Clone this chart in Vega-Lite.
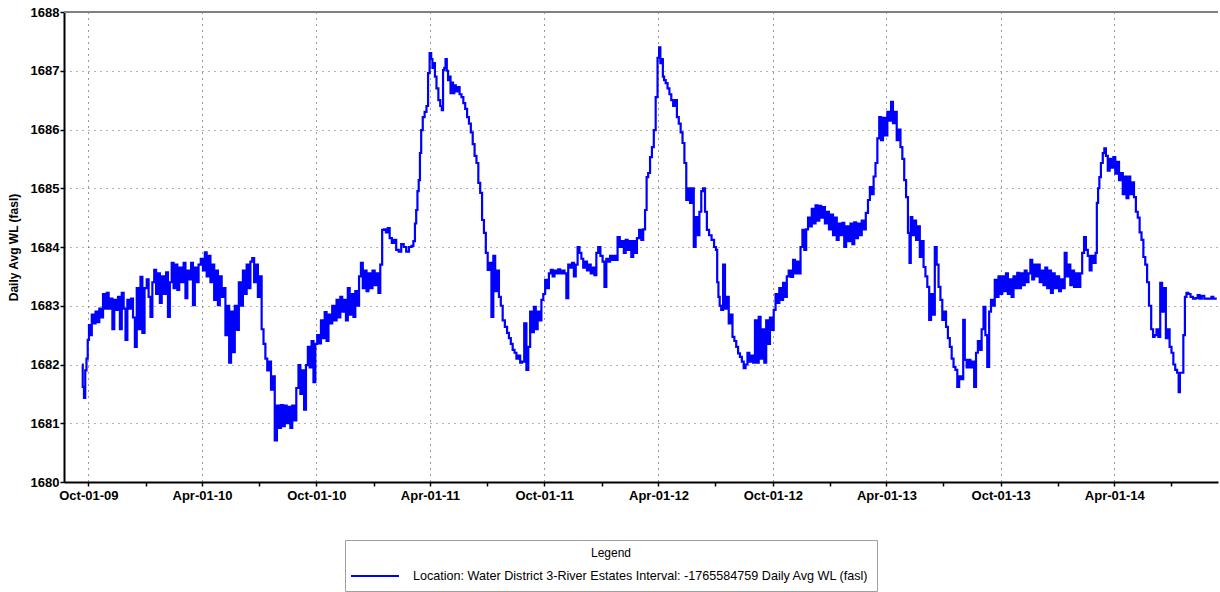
{"$schema":"https://vega.github.io/schema/vega-lite/v6.json","width":1154,"height":470,"autosize":"none","padding":{"left":64,"top":12,"right":2,"bottom":110},"background":"white","config":{"view":{"stroke":null}},
"layer":[
{"data":{"values":[
{"d":"2009-09-21","v":1682.0},{"d":"2009-09-23","v":1681.62},{"d":"2009-09-25","v":1681.43},{"d":"2009-09-27","v":1681.9},{"d":"2009-09-29","v":1682.1},
{"d":"2009-10-01","v":1682.42},{"d":"2009-10-03","v":1682.67},{"d":"2009-10-05","v":1682.5},{"d":"2009-10-08","v":1682.85},{"d":"2009-10-11","v":1682.7},{"d":"2009-10-14","v":1682.9},{"d":"2009-10-17","v":1682.72},{"d":"2009-10-20","v":1682.95},{"d":"2009-10-23","v":1682.8},{"d":"2009-10-26","v":1683.2},{"d":"2009-10-29","v":1682.95},
{"d":"2009-11-01","v":1683.22},{"d":"2009-11-04","v":1682.95},{"d":"2009-11-07","v":1683.12},{"d":"2009-11-10","v":1682.6},{"d":"2009-11-13","v":1683.1},{"d":"2009-11-16","v":1682.93},{"d":"2009-11-19","v":1683.15},{"d":"2009-11-22","v":1682.6},{"d":"2009-11-25","v":1683.22},{"d":"2009-11-28","v":1682.95},
{"d":"2009-12-01","v":1682.42},{"d":"2009-12-04","v":1683.1},{"d":"2009-12-07","v":1682.95},{"d":"2009-12-10","v":1683.12},{"d":"2009-12-13","v":1682.8},{"d":"2009-12-16","v":1682.3},{"d":"2009-12-19","v":1683.3},{"d":"2009-12-22","v":1682.6},{"d":"2009-12-25","v":1683.49},{"d":"2009-12-28","v":1682.54},
{"d":"2010-01-01","v":1683.3},{"d":"2010-01-04","v":1683.45},{"d":"2010-01-07","v":1683.15},{"d":"2010-01-10","v":1682.81},{"d":"2010-01-13","v":1683.4},{"d":"2010-01-16","v":1683.61},{"d":"2010-01-19","v":1683.2},{"d":"2010-01-22","v":1683.55},{"d":"2010-01-25","v":1683.05},{"d":"2010-01-28","v":1683.5},
{"d":"2010-02-01","v":1683.2},{"d":"2010-02-04","v":1683.57},{"d":"2010-02-07","v":1682.81},{"d":"2010-02-10","v":1683.4},{"d":"2010-02-13","v":1683.73},{"d":"2010-02-16","v":1683.3},{"d":"2010-02-19","v":1683.7},{"d":"2010-02-22","v":1683.27},{"d":"2010-02-25","v":1683.65},
{"d":"2010-03-01","v":1683.4},{"d":"2010-03-04","v":1683.73},{"d":"2010-03-07","v":1683.13},{"d":"2010-03-10","v":1683.6},{"d":"2010-03-13","v":1683.45},{"d":"2010-03-16","v":1683.73},{"d":"2010-03-19","v":1683.01},{"d":"2010-03-22","v":1683.65},{"d":"2010-03-25","v":1683.4},{"d":"2010-03-28","v":1683.7},
{"d":"2010-04-01","v":1683.8},{"d":"2010-04-04","v":1683.6},{"d":"2010-04-07","v":1683.91},{"d":"2010-04-10","v":1683.5},{"d":"2010-04-13","v":1683.85},{"d":"2010-04-16","v":1683.4},{"d":"2010-04-19","v":1683.7},{"d":"2010-04-22","v":1683.1},{"d":"2010-04-25","v":1683.6},{"d":"2010-04-28","v":1683.01},
{"d":"2010-05-01","v":1683.5},{"d":"2010-05-04","v":1683.15},{"d":"2010-05-07","v":1683.3},{"d":"2010-05-10","v":1682.5},{"d":"2010-05-13","v":1683.0},{"d":"2010-05-16","v":1682.03},{"d":"2010-05-19","v":1682.9},{"d":"2010-05-22","v":1682.21},{"d":"2010-05-25","v":1683.0},{"d":"2010-05-28","v":1682.59},
{"d":"2010-06-01","v":1683.4},{"d":"2010-06-04","v":1683.0},{"d":"2010-06-07","v":1683.6},{"d":"2010-06-10","v":1683.2},{"d":"2010-06-13","v":1683.7},{"d":"2010-06-16","v":1683.3},{"d":"2010-06-19","v":1683.75},{"d":"2010-06-22","v":1683.81},{"d":"2010-06-25","v":1683.4},{"d":"2010-06-28","v":1683.7},
{"d":"2010-07-01","v":1683.15},{"d":"2010-07-04","v":1683.5},{"d":"2010-07-07","v":1682.6},{"d":"2010-07-10","v":1682.35},{"d":"2010-07-13","v":1682.1},{"d":"2010-07-16","v":1681.9},{"d":"2010-07-19","v":1682.05},{"d":"2010-07-22","v":1681.57},{"d":"2010-07-25","v":1681.8},{"d":"2010-07-28","v":1680.71},
{"d":"2010-08-01","v":1681.3},{"d":"2010-08-04","v":1680.92},{"d":"2010-08-07","v":1681.31},{"d":"2010-08-10","v":1680.95},{"d":"2010-08-13","v":1681.3},{"d":"2010-08-16","v":1681.0},{"d":"2010-08-19","v":1681.28},{"d":"2010-08-22","v":1680.92},{"d":"2010-08-25","v":1681.3},{"d":"2010-08-28","v":1681.05},
{"d":"2010-09-01","v":1681.6},{"d":"2010-09-04","v":1681.99},{"d":"2010-09-07","v":1681.5},{"d":"2010-09-10","v":1681.9},{"d":"2010-09-13","v":1681.23},{"d":"2010-09-16","v":1681.99},{"d":"2010-09-19","v":1682.3},{"d":"2010-09-22","v":1681.95},{"d":"2010-09-25","v":1682.4},{"d":"2010-09-28","v":1681.7},
{"d":"2010-10-01","v":1682.35},{"d":"2010-10-04","v":1682.5},{"d":"2010-10-07","v":1682.36},{"d":"2010-10-10","v":1682.75},{"d":"2010-10-13","v":1682.45},{"d":"2010-10-16","v":1682.89},{"d":"2010-10-19","v":1682.4},{"d":"2010-10-22","v":1682.85},{"d":"2010-10-25","v":1682.7},{"d":"2010-10-28","v":1683.0},
{"d":"2010-11-01","v":1682.75},{"d":"2010-11-04","v":1683.1},{"d":"2010-11-07","v":1682.8},{"d":"2010-11-10","v":1683.15},{"d":"2010-11-13","v":1682.9},{"d":"2010-11-16","v":1683.1},{"d":"2010-11-19","v":1682.75},{"d":"2010-11-22","v":1683.3},{"d":"2010-11-25","v":1682.85},{"d":"2010-11-28","v":1683.2},
{"d":"2010-12-01","v":1682.81},{"d":"2010-12-04","v":1683.25},{"d":"2010-12-07","v":1683.0},{"d":"2010-12-10","v":1683.5},{"d":"2010-12-13","v":1683.73},{"d":"2010-12-16","v":1683.3},{"d":"2010-12-19","v":1683.6},{"d":"2010-12-22","v":1683.25},{"d":"2010-12-25","v":1683.55},{"d":"2010-12-28","v":1683.3},
{"d":"2011-01-01","v":1683.6},{"d":"2011-01-04","v":1683.35},{"d":"2011-01-07","v":1683.55},{"d":"2011-01-10","v":1683.22},{"d":"2011-01-13","v":1683.7},{"d":"2011-01-16","v":1684.29},{"d":"2011-01-19","v":1684.3},{"d":"2011-01-22","v":1684.25},{"d":"2011-01-25","v":1684.32},{"d":"2011-01-28","v":1684.15},
{"d":"2011-02-01","v":1684.07},{"d":"2011-02-04","v":1684.12},{"d":"2011-02-08","v":1683.95},{"d":"2011-02-12","v":1683.92},{"d":"2011-02-16","v":1684.05},{"d":"2011-02-20","v":1684.0},{"d":"2011-02-24","v":1683.92},
{"d":"2011-03-01","v":1684.0},{"d":"2011-03-04","v":1684.02},{"d":"2011-03-07","v":1684.1},{"d":"2011-03-09","v":1684.4},{"d":"2011-03-11","v":1684.63},{"d":"2011-03-13","v":1684.95},{"d":"2011-03-15","v":1685.14},{"d":"2011-03-17","v":1685.6},{"d":"2011-03-19","v":1685.99},{"d":"2011-03-22","v":1686.21},{"d":"2011-03-25","v":1686.3},{"d":"2011-03-28","v":1686.4},{"d":"2011-03-30","v":1686.96},
{"d":"2011-04-02","v":1687.3},{"d":"2011-04-04","v":1687.2},{"d":"2011-04-06","v":1687.05},{"d":"2011-04-08","v":1687.13},{"d":"2011-04-10","v":1686.9},{"d":"2011-04-13","v":1686.7},{"d":"2011-04-16","v":1686.5},{"d":"2011-04-19","v":1686.4},{"d":"2011-04-21","v":1686.33},{"d":"2011-04-23","v":1687.01},{"d":"2011-04-25","v":1687.05},{"d":"2011-04-27","v":1687.2},{"d":"2011-04-29","v":1687.0},
{"d":"2011-05-01","v":1686.84},{"d":"2011-05-03","v":1686.9},{"d":"2011-05-05","v":1686.62},{"d":"2011-05-07","v":1686.8},{"d":"2011-05-09","v":1686.62},{"d":"2011-05-11","v":1686.75},{"d":"2011-05-14","v":1686.65},{"d":"2011-05-17","v":1686.72},{"d":"2011-05-20","v":1686.6},{"d":"2011-05-23","v":1686.55},{"d":"2011-05-26","v":1686.45},{"d":"2011-05-29","v":1686.35},
{"d":"2011-06-01","v":1686.21},{"d":"2011-06-04","v":1686.1},{"d":"2011-06-07","v":1685.95},{"d":"2011-06-10","v":1685.75},{"d":"2011-06-13","v":1685.55},{"d":"2011-06-16","v":1685.43},{"d":"2011-06-19","v":1685.09},{"d":"2011-06-22","v":1684.92},{"d":"2011-06-25","v":1684.46},{"d":"2011-06-28","v":1684.24},
{"d":"2011-07-01","v":1683.9},{"d":"2011-07-04","v":1683.61},{"d":"2011-07-07","v":1683.73},{"d":"2011-07-10","v":1682.81},{"d":"2011-07-13","v":1683.85},{"d":"2011-07-16","v":1683.25},{"d":"2011-07-19","v":1683.6},{"d":"2011-07-22","v":1683.15},{"d":"2011-07-25","v":1683.0},{"d":"2011-07-28","v":1682.75},
{"d":"2011-08-01","v":1682.64},{"d":"2011-08-04","v":1682.54},{"d":"2011-08-07","v":1682.45},{"d":"2011-08-10","v":1682.35},{"d":"2011-08-13","v":1682.25},{"d":"2011-08-16","v":1682.2},{"d":"2011-08-19","v":1682.1},{"d":"2011-08-22","v":1682.15},{"d":"2011-08-25","v":1682.03},{"d":"2011-08-28","v":1682.05},
{"d":"2011-09-01","v":1682.7},{"d":"2011-09-04","v":1681.91},{"d":"2011-09-07","v":1682.3},{"d":"2011-09-10","v":1682.9},{"d":"2011-09-13","v":1682.55},{"d":"2011-09-16","v":1682.98},{"d":"2011-09-19","v":1682.6},{"d":"2011-09-22","v":1682.9},{"d":"2011-09-25","v":1682.75},{"d":"2011-09-28","v":1683.1},
{"d":"2011-10-01","v":1683.2},{"d":"2011-10-04","v":1683.44},{"d":"2011-10-07","v":1683.3},{"d":"2011-10-10","v":1683.55},{"d":"2011-10-13","v":1683.61},{"d":"2011-10-16","v":1683.5},{"d":"2011-10-19","v":1683.6},{"d":"2011-10-22","v":1683.55},{"d":"2011-10-25","v":1683.62},{"d":"2011-10-28","v":1683.55},
{"d":"2011-11-01","v":1683.6},{"d":"2011-11-04","v":1683.55},{"d":"2011-11-07","v":1683.13},{"d":"2011-11-10","v":1683.7},{"d":"2011-11-13","v":1683.65},{"d":"2011-11-16","v":1683.73},{"d":"2011-11-19","v":1683.5},{"d":"2011-11-22","v":1683.7},{"d":"2011-11-25","v":1684.0},{"d":"2011-11-28","v":1683.9},
{"d":"2011-12-01","v":1683.8},{"d":"2011-12-04","v":1683.65},{"d":"2011-12-07","v":1683.75},{"d":"2011-12-10","v":1683.6},{"d":"2011-12-13","v":1683.7},{"d":"2011-12-16","v":1683.55},{"d":"2011-12-19","v":1683.65},{"d":"2011-12-22","v":1683.52},{"d":"2011-12-25","v":1683.9},{"d":"2011-12-28","v":1684.0},
{"d":"2012-01-01","v":1683.85},{"d":"2012-01-04","v":1683.75},{"d":"2012-01-07","v":1683.32},{"d":"2012-01-10","v":1683.8},{"d":"2012-01-13","v":1683.75},{"d":"2012-01-16","v":1683.85},{"d":"2012-01-19","v":1683.78},{"d":"2012-01-22","v":1683.85},{"d":"2012-01-25","v":1683.78},{"d":"2012-01-28","v":1684.17},
{"d":"2012-02-01","v":1684.0},{"d":"2012-02-04","v":1684.1},{"d":"2012-02-07","v":1683.9},{"d":"2012-02-10","v":1684.12},{"d":"2012-02-13","v":1683.95},{"d":"2012-02-16","v":1684.1},{"d":"2012-02-19","v":1683.83},{"d":"2012-02-22","v":1684.1},{"d":"2012-02-25","v":1683.9},{"d":"2012-02-28","v":1684.15},
{"d":"2012-03-03","v":1684.29},{"d":"2012-03-06","v":1684.12},{"d":"2012-03-09","v":1684.3},{"d":"2012-03-12","v":1684.63},{"d":"2012-03-14","v":1685.19},{"d":"2012-03-17","v":1685.26},{"d":"2012-03-20","v":1685.53},{"d":"2012-03-23","v":1685.7},{"d":"2012-03-26","v":1685.99},{"d":"2012-03-29","v":1686.55},
{"d":"2012-04-01","v":1687.22},{"d":"2012-04-03","v":1687.4},{"d":"2012-04-05","v":1687.13},{"d":"2012-04-07","v":1687.2},{"d":"2012-04-09","v":1686.9},{"d":"2012-04-11","v":1686.84},{"d":"2012-04-14","v":1686.79},{"d":"2012-04-17","v":1686.7},{"d":"2012-04-20","v":1686.6},{"d":"2012-04-23","v":1686.5},{"d":"2012-04-26","v":1686.4},{"d":"2012-04-29","v":1686.5},
{"d":"2012-05-02","v":1686.21},{"d":"2012-05-05","v":1686.1},{"d":"2012-05-08","v":1685.95},{"d":"2012-05-11","v":1685.77},{"d":"2012-05-14","v":1685.43},{"d":"2012-05-17","v":1684.8},{"d":"2012-05-20","v":1685.0},{"d":"2012-05-23","v":1684.75},{"d":"2012-05-26","v":1685.0},{"d":"2012-05-29","v":1684.0},
{"d":"2012-06-01","v":1684.51},{"d":"2012-06-04","v":1684.2},{"d":"2012-06-07","v":1684.6},{"d":"2012-06-10","v":1684.95},{"d":"2012-06-13","v":1685.0},{"d":"2012-06-16","v":1684.6},{"d":"2012-06-19","v":1684.29},{"d":"2012-06-23","v":1684.2},{"d":"2012-06-27","v":1684.12},
{"d":"2012-07-01","v":1684.0},{"d":"2012-07-03","v":1683.95},{"d":"2012-07-05","v":1683.4},{"d":"2012-07-07","v":1683.15},{"d":"2012-07-09","v":1683.0},{"d":"2012-07-12","v":1682.93},{"d":"2012-07-15","v":1683.7},{"d":"2012-07-18","v":1682.95},{"d":"2012-07-21","v":1683.15},{"d":"2012-07-24","v":1682.7},{"d":"2012-07-27","v":1682.85},{"d":"2012-07-30","v":1682.47},
{"d":"2012-08-02","v":1682.4},{"d":"2012-08-05","v":1682.3},{"d":"2012-08-08","v":1682.19},{"d":"2012-08-11","v":1682.13},{"d":"2012-08-14","v":1682.05},{"d":"2012-08-17","v":1681.94},{"d":"2012-08-20","v":1682.0},{"d":"2012-08-23","v":1682.2},{"d":"2012-08-26","v":1682.05},{"d":"2012-08-29","v":1682.15},
{"d":"2012-09-01","v":1682.03},{"d":"2012-09-04","v":1682.75},{"d":"2012-09-07","v":1682.03},{"d":"2012-09-10","v":1682.81},{"d":"2012-09-13","v":1682.1},{"d":"2012-09-16","v":1682.6},{"d":"2012-09-19","v":1682.03},{"d":"2012-09-22","v":1682.75},{"d":"2012-09-25","v":1682.35},{"d":"2012-09-28","v":1682.8},
{"d":"2012-10-01","v":1682.59},{"d":"2012-10-04","v":1682.93},{"d":"2012-10-07","v":1683.2},{"d":"2012-10-10","v":1683.05},{"d":"2012-10-13","v":1683.3},{"d":"2012-10-16","v":1683.1},{"d":"2012-10-19","v":1683.39},{"d":"2012-10-22","v":1683.15},{"d":"2012-10-25","v":1683.5},{"d":"2012-10-28","v":1683.6},
{"d":"2012-11-01","v":1683.49},{"d":"2012-11-04","v":1683.78},{"d":"2012-11-07","v":1683.55},{"d":"2012-11-10","v":1683.75},{"d":"2012-11-13","v":1683.55},{"d":"2012-11-16","v":1684.0},{"d":"2012-11-19","v":1684.29},{"d":"2012-11-22","v":1683.95},{"d":"2012-11-25","v":1684.3},{"d":"2012-11-28","v":1684.5},
{"d":"2012-12-01","v":1684.35},{"d":"2012-12-04","v":1684.65},{"d":"2012-12-07","v":1684.4},{"d":"2012-12-10","v":1684.71},{"d":"2012-12-13","v":1684.45},{"d":"2012-12-16","v":1684.7},{"d":"2012-12-19","v":1684.5},{"d":"2012-12-22","v":1684.68},{"d":"2012-12-25","v":1684.4},{"d":"2012-12-28","v":1684.6},
{"d":"2013-01-01","v":1684.3},{"d":"2013-01-04","v":1684.55},{"d":"2013-01-07","v":1684.2},{"d":"2013-01-10","v":1684.5},{"d":"2013-01-13","v":1684.12},{"d":"2013-01-16","v":1684.4},{"d":"2013-01-19","v":1684.2},{"d":"2013-01-22","v":1684.41},{"d":"2013-01-25","v":1684.0},{"d":"2013-01-28","v":1684.35},
{"d":"2013-02-01","v":1684.1},{"d":"2013-02-04","v":1684.4},{"d":"2013-02-07","v":1684.05},{"d":"2013-02-10","v":1684.42},{"d":"2013-02-13","v":1684.15},{"d":"2013-02-16","v":1684.4},{"d":"2013-02-19","v":1684.2},{"d":"2013-02-22","v":1684.45},{"d":"2013-02-25","v":1684.3},
{"d":"2013-03-01","v":1684.58},{"d":"2013-03-04","v":1684.8},{"d":"2013-03-07","v":1685.02},{"d":"2013-03-10","v":1684.9},{"d":"2013-03-13","v":1685.2},{"d":"2013-03-16","v":1685.43},{"d":"2013-03-19","v":1685.85},{"d":"2013-03-22","v":1686.21},{"d":"2013-03-25","v":1685.82},{"d":"2013-03-28","v":1686.2},
{"d":"2013-04-01","v":1685.9},{"d":"2013-04-04","v":1686.3},{"d":"2013-04-07","v":1686.15},{"d":"2013-04-10","v":1686.47},{"d":"2013-04-13","v":1686.11},{"d":"2013-04-16","v":1686.3},{"d":"2013-04-19","v":1685.82},{"d":"2013-04-22","v":1686.0},{"d":"2013-04-25","v":1685.7},{"d":"2013-04-28","v":1685.5},
{"d":"2013-05-01","v":1685.14},{"d":"2013-05-04","v":1684.85},{"d":"2013-05-07","v":1684.24},{"d":"2013-05-09","v":1683.73},{"d":"2013-05-11","v":1684.51},{"d":"2013-05-14","v":1684.2},{"d":"2013-05-17","v":1684.45},{"d":"2013-05-20","v":1684.12},{"d":"2013-05-23","v":1684.35},{"d":"2013-05-26","v":1683.83},{"d":"2013-05-29","v":1684.1},
{"d":"2013-06-01","v":1683.66},{"d":"2013-06-04","v":1683.5},{"d":"2013-06-07","v":1683.32},{"d":"2013-06-10","v":1682.76},{"d":"2013-06-13","v":1683.2},{"d":"2013-06-16","v":1682.85},{"d":"2013-06-19","v":1684.0},{"d":"2013-06-22","v":1683.7},{"d":"2013-06-25","v":1683.32},{"d":"2013-06-28","v":1683.1},
{"d":"2013-07-01","v":1682.76},{"d":"2013-07-04","v":1682.9},{"d":"2013-07-07","v":1682.64},{"d":"2013-07-10","v":1682.45},{"d":"2013-07-13","v":1682.3},{"d":"2013-07-16","v":1682.1},{"d":"2013-07-19","v":1681.96},{"d":"2013-07-22","v":1681.91},{"d":"2013-07-25","v":1681.62},{"d":"2013-07-28","v":1681.8},
{"d":"2013-08-01","v":1681.75},{"d":"2013-08-03","v":1682.76},{"d":"2013-08-06","v":1682.08},{"d":"2013-08-09","v":1681.95},{"d":"2013-08-12","v":1682.08},{"d":"2013-08-15","v":1681.95},{"d":"2013-08-18","v":1682.05},{"d":"2013-08-21","v":1681.62},{"d":"2013-08-24","v":1682.2},{"d":"2013-08-27","v":1682.4},{"d":"2013-08-30","v":1682.25},
{"d":"2013-09-02","v":1682.6},{"d":"2013-09-05","v":1682.98},{"d":"2013-09-08","v":1682.5},{"d":"2013-09-11","v":1681.96},{"d":"2013-09-14","v":1682.9},{"d":"2013-09-17","v":1683.1},{"d":"2013-09-20","v":1683.0},{"d":"2013-09-23","v":1683.44},{"d":"2013-09-26","v":1683.15},{"d":"2013-09-29","v":1683.5},
{"d":"2013-10-02","v":1683.2},{"d":"2013-10-05","v":1683.5},{"d":"2013-10-08","v":1683.25},{"d":"2013-10-11","v":1683.55},{"d":"2013-10-14","v":1683.2},{"d":"2013-10-17","v":1683.45},{"d":"2013-10-20","v":1683.15},{"d":"2013-10-23","v":1683.5},{"d":"2013-10-26","v":1683.3},{"d":"2013-10-29","v":1683.56},
{"d":"2013-11-01","v":1683.3},{"d":"2013-11-04","v":1683.55},{"d":"2013-11-07","v":1683.35},{"d":"2013-11-10","v":1683.6},{"d":"2013-11-13","v":1683.4},{"d":"2013-11-16","v":1683.55},{"d":"2013-11-19","v":1683.78},{"d":"2013-11-22","v":1683.45},{"d":"2013-11-25","v":1683.7},{"d":"2013-11-28","v":1683.5},
{"d":"2013-12-01","v":1683.7},{"d":"2013-12-04","v":1683.4},{"d":"2013-12-07","v":1683.6},{"d":"2013-12-10","v":1683.35},{"d":"2013-12-13","v":1683.65},{"d":"2013-12-16","v":1683.3},{"d":"2013-12-19","v":1683.6},{"d":"2013-12-22","v":1683.22},{"d":"2013-12-25","v":1683.55},{"d":"2013-12-28","v":1683.3},
{"d":"2014-01-01","v":1683.5},{"d":"2014-01-04","v":1683.25},{"d":"2014-01-07","v":1683.45},{"d":"2014-01-10","v":1683.3},{"d":"2014-01-13","v":1683.9},{"d":"2014-01-16","v":1683.5},{"d":"2014-01-19","v":1683.7},{"d":"2014-01-22","v":1683.35},{"d":"2014-01-25","v":1683.6},{"d":"2014-01-28","v":1683.32},
{"d":"2014-02-01","v":1683.55},{"d":"2014-02-04","v":1683.32},{"d":"2014-02-07","v":1683.55},{"d":"2014-02-10","v":1683.9},{"d":"2014-02-13","v":1684.17},{"d":"2014-02-16","v":1683.95},{"d":"2014-02-19","v":1683.85},{"d":"2014-02-22","v":1683.6},{"d":"2014-02-25","v":1683.85},
{"d":"2014-03-01","v":1683.73},{"d":"2014-03-03","v":1683.9},{"d":"2014-03-05","v":1684.75},{"d":"2014-03-07","v":1685.0},{"d":"2014-03-09","v":1685.19},{"d":"2014-03-12","v":1685.43},{"d":"2014-03-15","v":1685.6},{"d":"2014-03-17","v":1685.68},{"d":"2014-03-20","v":1685.55},{"d":"2014-03-23","v":1685.3},{"d":"2014-03-26","v":1685.5},{"d":"2014-03-29","v":1685.35},
{"d":"2014-04-01","v":1685.53},{"d":"2014-04-04","v":1685.25},{"d":"2014-04-07","v":1685.45},{"d":"2014-04-10","v":1685.14},{"d":"2014-04-13","v":1685.26},{"d":"2014-04-16","v":1684.9},{"d":"2014-04-19","v":1685.2},{"d":"2014-04-22","v":1684.83},{"d":"2014-04-25","v":1685.2},{"d":"2014-04-28","v":1684.9},
{"d":"2014-05-01","v":1685.1},{"d":"2014-05-04","v":1684.85},{"d":"2014-05-07","v":1684.6},{"d":"2014-05-10","v":1684.5},{"d":"2014-05-13","v":1684.25},{"d":"2014-05-16","v":1684.12},{"d":"2014-05-19","v":1683.83},{"d":"2014-05-22","v":1683.7},{"d":"2014-05-25","v":1683.4},{"d":"2014-05-28","v":1683.0},
{"d":"2014-06-01","v":1682.6},{"d":"2014-06-03","v":1682.47},{"d":"2014-06-06","v":1682.5},{"d":"2014-06-09","v":1682.6},{"d":"2014-06-12","v":1682.47},{"d":"2014-06-15","v":1683.39},{"d":"2014-06-18","v":1682.9},{"d":"2014-06-21","v":1683.3},{"d":"2014-06-24","v":1682.45},{"d":"2014-06-27","v":1682.6},{"d":"2014-06-30","v":1682.3},
{"d":"2014-07-03","v":1682.2},{"d":"2014-07-06","v":1682.0},{"d":"2014-07-09","v":1681.91},{"d":"2014-07-12","v":1681.86},{"d":"2014-07-14","v":1681.53},{"d":"2014-07-16","v":1681.86},{"d":"2014-07-19","v":1681.86},{"d":"2014-07-22","v":1682.5},{"d":"2014-07-24","v":1683.15},{"d":"2014-07-27","v":1683.22},{"d":"2014-07-30","v":1683.2},
{"d":"2014-08-03","v":1683.15},{"d":"2014-08-07","v":1683.12},{"d":"2014-08-11","v":1683.13},{"d":"2014-08-14","v":1683.18},{"d":"2014-08-17","v":1683.12},{"d":"2014-08-21","v":1683.17},{"d":"2014-08-25","v":1683.12},{"d":"2014-08-29","v":1683.12},{"d":"2014-09-02","v":1683.12},{"d":"2014-09-05","v":1683.15},{"d":"2014-09-08","v":1683.12},{"d":"2014-09-12","v":1683.12}
]},
"mark":{"type":"line","strokeWidth":2.2,"interpolate":"step"},
"encoding":{
"x":{"field":"d","type":"temporal","scale":{"type":"utc","domain":[{"year":2009,"month":8,"date":23,"utc":true},{"year":2014,"month":9,"date":14,"utc":true}]},
"axis":{"title":null,"values":[{"year":2009,"month":10,"date":1,"utc":true},{"year":2010,"month":1,"date":1,"utc":true},{"year":2010,"month":4,"date":1,"utc":true},{"year":2010,"month":7,"date":1,"utc":true},{"year":2010,"month":10,"date":1,"utc":true},{"year":2011,"month":1,"date":1,"utc":true},{"year":2011,"month":4,"date":1,"utc":true},{"year":2011,"month":7,"date":1,"utc":true},{"year":2011,"month":10,"date":1,"utc":true},{"year":2012,"month":1,"date":1,"utc":true},{"year":2012,"month":4,"date":1,"utc":true},{"year":2012,"month":7,"date":1,"utc":true},{"year":2012,"month":10,"date":1,"utc":true},{"year":2013,"month":1,"date":1,"utc":true},{"year":2013,"month":4,"date":1,"utc":true},{"year":2013,"month":7,"date":1,"utc":true},{"year":2013,"month":10,"date":1,"utc":true},{"year":2014,"month":1,"date":1,"utc":true},{"year":2014,"month":4,"date":1,"utc":true},{"year":2014,"month":7,"date":1,"utc":true}],
"labelExpr":"utcmonth(datum.value) % 6 == 3 ? utcFormat(datum.value, '%b-%d-%y') : ''",
"labelFont":"Liberation Sans","labelFontWeight":"bold","labelFontSize":13,"labelColor":"black","labelPadding":3,"labelOverlap":false,"labelFlush":false,
"tickSize":4,"tickColor":"black","tickWidth":1.5,"domainColor":"black","domainWidth":2,
"grid":true,"gridColor":"#333333","gridDash":[1,5],"gridWidth":1,
"gridOpacity":{"condition":{"test":"utcmonth(datum.value) % 6 != 3","value":0},"value":1}}},
"y":{"field":"v","type":"quantitative","scale":{"domain":[1680,1688],"nice":false,"zero":false},
"axis":{"title":"Daily Avg WL (fasl)","titleFont":"Liberation Sans","titleFontWeight":"bold","titleFontSize":12,"titleColor":"black","titleX":-44,
"values":[1680,1680.5,1681,1681.5,1682,1682.5,1683,1683.5,1684,1684.5,1685,1685.5,1686,1686.5,1687,1687.5,1688],
"labelExpr":"datum.value % 1 == 0 ? format(datum.value, 'd') : ''",
"labelFont":"Liberation Sans","labelFontWeight":"bold","labelFontSize":13,"labelColor":"black","labelPadding":1,
"tickSize":4,"tickColor":"black","tickWidth":1.5,"domainColor":"black","domainWidth":2,
"grid":true,"gridColor":"#666666","gridDash":[1,5],"gridWidth":1,
"gridOpacity":{"condition":{"test":"datum.value % 1 != 0","value":0},"value":1}}},
"color":{"datum":"Location: Water District 3-River Estates Interval: -1765584759 Daily Avg WL (fasl)","type":"nominal","scale":{"range":["#0000ff"]},
"legend":{"orient":"none","legendX":281,"legendY":528,"title":"Legend","titleAnchor":"middle","titleFont":"Liberation Sans","titleFontWeight":"normal","titleFontSize":12,"titleColor":"black","titlePadding":9,"padding":8,"strokeColor":"#a0a0a0","fillColor":"white","symbolType":"M-4,0H4","symbolSize":144,"symbolStrokeWidth":2,"symbolOffset":15,"labelOffset":31,"labelFont":"Liberation Sans","labelFontSize":12.6,"labelColor":"black","labelLimit":700}}
}},
{"data":{"values":[{}]},"mark":{"type":"rule","color":"#808080","strokeWidth":2},"encoding":{"y":{"datum":1688,"type":"quantitative"}}}
]}
